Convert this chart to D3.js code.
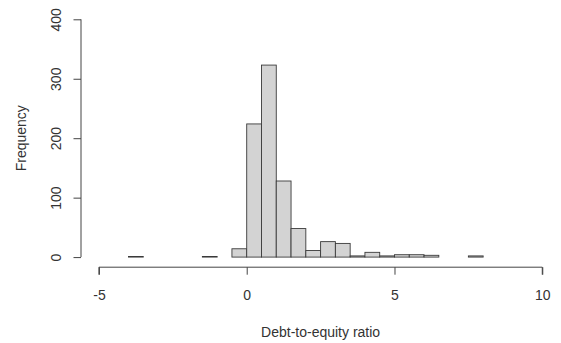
<!DOCTYPE html>
<html>
<head>
<meta charset="utf-8">
<script src="https://cdn.jsdelivr.net/npm/d3@7"></script>
<style>
  html, body { margin: 0; padding: 0; background: #fff; }
  svg text { font-family: "Liberation Sans", Arial, sans-serif; fill: #333; }
</style>
</head>
<body>
<svg id="chart" width="561" height="343"></svg>
<script>
// Histogram of debt-to-equity ratios, bins of width 0.5
const binStarts = [-6, -5.5, -5, -4.5, -4, -3.5, -3, -2.5, -2, -1.5, -1, -0.5,
                   0, 0.5, 1, 1.5, 2, 2.5, 3, 3.5, 4, 4.5, 5, 5.5, 6, 6.5, 7, 7.5,
                   8, 8.5, 9, 9.5, 10, 10.5];
const counts =    [0, 0, 0, 0, 1, 0, 0, 0, 0, 1, 0, 14,
                   224, 323, 128, 48, 11, 26, 23, 2, 8, 2, 4, 4, 3, 0, 0, 2,
                   0, 0, 0, 0, 0, 0];
const binWidth = 0.5;
const xTicks = [-5, 0, 5, 10];
const yTicks = [0, 100, 200, 300, 400];
const xTitle = "Debt-to-equity ratio";
const yTitle = "Frequency";

const svg = d3.select("#chart");
const fontSize = 14;
const plainNum = d => String(d);   // ASCII hyphen for negatives

// plot region (xlim -5..10, ylim 0..400, each padded by 4%)
const xDom = [-5, 10], yDom = [0, 400];
const xPad = (xDom[1] - xDom[0]) * 0.04, yPad = (yDom[1] - yDom[0]) * 0.04;
const plotL = 81.2, plotR = 560, plotT = 9.8, plotB = 266.6;

const x = d3.scaleLinear().domain([xDom[0] - xPad, xDom[1] + xPad]).range([plotL, plotR]);
const y = d3.scaleLinear().domain([yDom[0] - yPad, yDom[1] + yPad]).range([plotB, plotT]);

svg.append("clipPath").attr("id", "plotClip")
  .append("rect").attr("x", plotL).attr("y", plotT)
  .attr("width", plotR - plotL).attr("height", plotB - plotT);

const bins = binStarts.map((s, i) => ({ x0: s, x1: s + binWidth, n: counts[i] }));

svg.append("g").attr("clip-path", "url(#plotClip)")
  .selectAll("rect").data(bins).join("rect")
  .attr("x", d => x(d.x0))
  .attr("width", d => x(d.x1) - x(d.x0))
  .attr("y", d => y(d.n))
  .attr("height", d => y(0) - y(d.n))
  .attr("fill", "#d3d3d3")
  .attr("stroke", "#3a3a3a")
  .attr("stroke-width", 0.9);

// x axis
const xAxis = svg.append("g").attr("transform", `translate(0,${plotB + 0.6})`)
  .call(d3.axisBottom(x).tickValues(xTicks).tickSize(7.5).tickPadding(15.3).tickFormat(plainNum));
xAxis.select(".domain").attr("d", `M${x(xTicks[0])},7.5V0H${x(xTicks[xTicks.length - 1])}V7.5`);

// y axis
const yAxis = svg.append("g").attr("transform", `translate(${plotL - 0.2},0)`)
  .call(d3.axisLeft(y).tickValues(yTicks).tickSize(7.5).tickPadding(0).tickFormat(plainNum));
yAxis.select(".domain").attr("d", `M0,${y(yTicks[0])}V${y(yTicks[yTicks.length - 1])}`);
yAxis.selectAll(".tick text")
  .attr("x", 0).attr("dy", null)
  .attr("transform", "translate(-25.5,0) rotate(-90)")
  .attr("text-anchor", "middle")
  .attr("dominant-baseline", "central");

svg.selectAll(".domain, .tick line").attr("stroke", "#444").attr("stroke-width", 1);
svg.selectAll(".tick text").attr("font-size", fontSize).attr("fill", "#333")
  .attr("font-family", "'Liberation Sans', Arial, sans-serif");

// titles
svg.append("text")
  .attr("x", (plotL + plotR) / 2).attr("y", 336.5)
  .attr("text-anchor", "middle").attr("font-size", fontSize)
  .text(xTitle);

svg.append("text")
  .attr("transform", `translate(25.5,${(plotT + plotB) / 2}) rotate(-90)`)
  .attr("text-anchor", "middle").attr("font-size", fontSize)
  .text(yTitle);
</script>
</body>
</html>
